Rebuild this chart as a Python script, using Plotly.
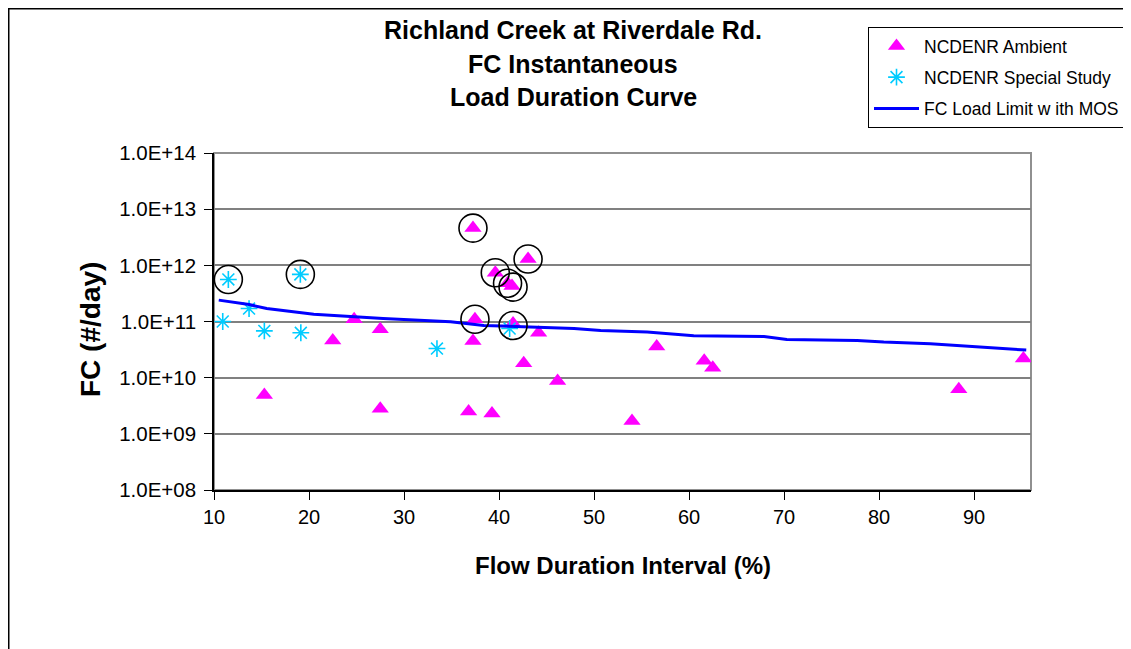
import plotly.graph_objects as go

# ---- data ----
ambient_x = [15.3, 22.5, 24.75, 27.5, 27.5, 36.8, 37.26, 37.47, 37.26, 39.26, 39.61, 40.9, 41.37, 41.48,
             42.6, 43.06, 44.17, 46.17, 54.0, 56.6, 61.6, 62.5, 88.4, 95.2]
ambient_y = [4.9e9, 4.6e10, 1.1e11, 7.3e10, 2.8e9, 2.5e9, 4.6e12, 1.1e11, 4.5e10, 2.3e9, 7.4e11, 4.8e11, 4.3e11, 9.2e10,
             1.8e10, 1.3e12, 6.3e10, 8.7e9, 1.7e9, 3.6e10, 2.0e10, 1.5e10, 6.2e9, 2.2e10]

special_x = [10.92, 11.51, 13.69, 15.30, 19.09, 19.14, 33.47, 41.12]
special_y = [1.0e11, 5.6e11, 1.7e11, 6.8e10, 6.9e11, 6.3e10, 3.3e10, 7.5e10]

limit_x = [10.5, 13.7, 15.55, 20.5, 27.8, 34.9, 38.4, 47.9, 50.7, 55.6, 60.5, 67.9, 70.3, 77.7, 80.5, 85.4, 95.5]
limit_y = [2.4e11, 2.0e11, 1.7e11, 1.35e11, 1.13e11, 9.9e10, 8.5e10, 7.5e10, 6.9e10, 6.5e10, 5.6e10, 5.4e10,
           4.8e10, 4.6e10, 4.3e10, 4.0e10, 3.1e10]

# exceedances circled on the chart
circled_x = [11.51, 19.09, 37.26, 39.61, 40.9, 41.48, 37.47, 41.48, 43.06]
circled_y = [5.6e11, 6.9e11, 4.6e12, 7.4e11, 4.8e11, 4.1e11, 1.1e11, 8.5e10, 1.3e12]

y_tickvals = [1e8, 1e9, 1e10, 1e11, 1e12, 1e13, 1e14]
y_ticktext = ["1.0E+08", "1.0E+09", "1.0E+10", "1.0E+11", "1.0E+12", "1.0E+13", "1.0E+14"]
x_tickvals = [10, 20, 30, 40, 50, 60, 70, 80, 90]

title_lines = ["Richland Creek at Riverdale Rd.", "FC Instantaneous", "Load Duration Curve"]

# ---- layout geometry ----
# the page body has an 8px margin, so the figure is sized to fit the window
OFF = 8
W, H = 1131 - OFF, 649 - OFF
# plot area in page pixels
L, R, T, B = 214, 1031, 153, 490
pw, ph = R - L, B - T


def px_x(p):
    return (p - L) / pw


def px_y(p):
    return (B - p) / ph


FONT = "Arial, 'Liberation Sans', sans-serif"

fig = go.Figure()

fig.add_trace(go.Scatter(
    x=ambient_x, y=ambient_y, mode="markers", name="NCDENR Ambient",
    legendgroup="a",
    marker=dict(symbol="triangle-up", size=15, color="#FF00FF", line=dict(width=0)),
))
fig.add_trace(go.Scatter(
    x=special_x, y=special_y, mode="markers", name="NCDENR Special Study",
    legendgroup="b",
    marker=dict(symbol="asterisk-open", size=14, color="#00CCFF",
                line=dict(width=1.6, color="#00CCFF")),
))
fig.add_trace(go.Scatter(
    x=limit_x, y=limit_y, mode="lines", name="FC Load Limit w ith MOS",
    legendgroup="c",
    line=dict(color="#0000FF", width=3),
))
fig.add_trace(go.Scatter(
    x=circled_x, y=circled_y, mode="markers", showlegend=False, hoverinfo="skip",
    marker=dict(symbol="circle-open", size=28, color="black", line=dict(width=1.6, color="black")),
))

annotations = []
for i, t in enumerate(title_lines):
    annotations.append(dict(
        text="<b>%s</b>" % t, xref="paper", yref="paper",
        x=px_x(573), y=px_y(30 + i * 33.5), xanchor="center", yanchor="middle",
        showarrow=False, font=dict(family=FONT, size=25, color="black"),
    ))
annotations.append(dict(
    text="<b>FC (#/day)</b>", xref="paper", yref="paper",
    x=px_x(90), y=px_y(330), xanchor="center", yanchor="middle", textangle=-90,
    showarrow=False, font=dict(family=FONT, size=28, color="black"),
))
annotations.append(dict(
    text="<b>Flow Duration Interval (%)</b>", xref="paper", yref="paper",
    x=px_x(623), y=px_y(565), xanchor="center", yanchor="middle",
    showarrow=False, font=dict(family=FONT, size=24, color="black"),
))

shapes = [
    # outer chart border
    dict(type="rect", xref="paper", yref="paper",
         x0=px_x(OFF + 0.75), y0=px_y(OFF + 0.75), x1=px_x(1200), y1=px_y(760),
         line=dict(color="black", width=1.5), fillcolor="rgba(0,0,0,0)", layer="below"),
    # plot area border
    dict(type="rect", xref="paper", yref="paper", x0=0, y0=0, x1=1, y1=1,
         line=dict(color="#909090", width=2), fillcolor="rgba(0,0,0,0)", layer="below"),
]

fig.update_layout(
    width=W, height=H,
    margin=dict(l=L - OFF, r=W - (R - OFF), t=T - OFF, b=H - (B - OFF), pad=0, autoexpand=False),
    paper_bgcolor="white", plot_bgcolor="white",
    font=dict(family=FONT, size=20, color="black"),
    showlegend=True,
    legend=dict(
        x=px_x(868), y=px_y(27), xanchor="left", yanchor="top",
        bordercolor="black", borderwidth=1, bgcolor="white",
        font=dict(family=FONT, size=17.5, color="black"),
        traceorder="grouped", tracegroupgap=5.5, itemwidth=45,
    ),
    annotations=annotations,
    shapes=shapes,
    xaxis=dict(
        range=[10, 96], tickvals=x_tickvals, showgrid=False, zeroline=False,
        showline=True, linecolor="black", linewidth=1.5,
        ticks="outside", ticklen=8, tickcolor="black", tickwidth=1,
        tickfont=dict(family=FONT, size=20, color="black"),
    ),
    yaxis=dict(
        type="log", range=[8, 14], tickvals=y_tickvals, ticktext=y_ticktext,
        showgrid=True, gridcolor="#808080", gridwidth=1.5, zeroline=False,
        showline=True, linecolor="black", linewidth=1.5,
        ticks="outside", ticklen=8, tickcolor="black", tickwidth=1,
        tickfont=dict(family=FONT, size=20.5, color="black"),
        ticklabelstandoff=4,
    ),
)

fig.write_html("out.html")
